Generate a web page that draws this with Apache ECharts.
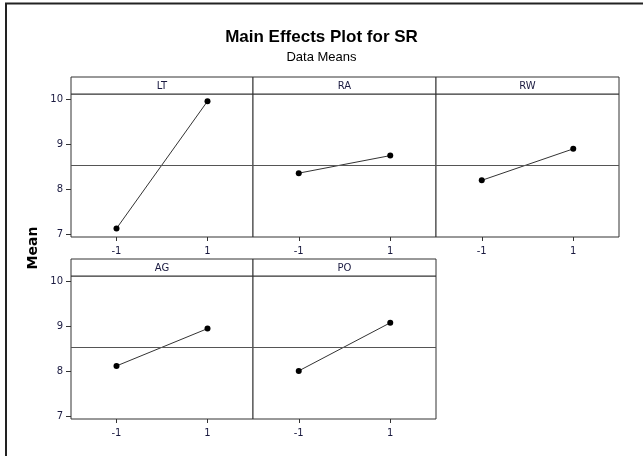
<!DOCTYPE html>
<html>
<head>
<meta charset="utf-8">
<script src="https://cdn.jsdelivr.net/npm/echarts@6/dist/echarts.min.js"></script>
<style>
  html, body { margin: 0; padding: 0; background: #fff; }
  #chart { width: 643px; height: 456px; }
</style>
</head>
<body>
<div id="chart"></div>
<script>
// Factor names and their coded levels
const factors = ['LT', 'RA', 'RW', 'AG', 'PO'];
const levels = [-1, 1];

// Mean response at each level of each factor
const meansLT = [7.13, 9.96];
const meansRA = [8.36, 8.75];
const meansRW = [8.20, 8.90];
const meansAG = [8.12, 8.95];
const meansPO = [8.01, 9.08];

// Overall mean of the response
const grandMean = 8.545;

// Axis ticks
const yTicks = [7, 8, 9, 10];
const xTicks = [-1, 1];

const factorMeans = [meansLT, meansRA, meansRW, meansAG, meansPO];

// Panel layout (pixels)
const colLeft = [71, 253, 436];
const colWidth = [182, 183, 183];
const rowHeaderTop = [77, 259];
const headerH = 17;
const plotH = 143;
const font = 'Tahoma, "DejaVu Sans", sans-serif';
const titleFont = '"Liberation Sans", Arial, sans-serif';

const grids = [], xAxes = [], yAxes = [], series = [], graphics = [];

factors.forEach((name, i) => {
  const row = Math.floor(i / 3), col = i % 3;
  const left = colLeft[col], width = colWidth[col];
  const top = rowHeaderTop[row] + headerH;

  grids.push({
    left: left, top: top, width: width, height: plotH,
    show: true, borderColor: '#333', borderWidth: 1, backgroundColor: '#fff'
  });

  xAxes.push({
    gridIndex: i, type: 'value', min: -2, max: 2,
    position: 'bottom',
    axisLine: { show: false, onZero: false },
    splitLine: { show: false },
    axisTick: { show: true, inside: false, customValues: xTicks, length: 4, lineStyle: { color: '#333' } },
    axisLabel: { customValues: xTicks, fontSize: 10, color: '#1a1a40', margin: 9, fontFamily: font }
  });

  const firstCol = col === 0;
  yAxes.push({
    gridIndex: i, type: 'value', min: 6.94, max: 10.12,
    position: 'left',
    axisLine: { show: false, onZero: false },
    splitLine: { show: false },
    axisTick: { show: firstCol, inside: false, customValues: yTicks, length: 5, lineStyle: { color: '#333' } },
    axisLabel: { show: firstCol, customValues: yTicks, fontSize: 10, color: '#1a1a40', margin: 8, fontFamily: font }
  });

  series.push({
    type: 'line',
    xAxisIndex: i, yAxisIndex: i,
    data: levels.map((lv, k) => [lv, factorMeans[i][k]]),
    symbol: 'circle', symbolSize: 6,
    itemStyle: { color: '#000' },
    lineStyle: { color: '#333', width: 1 },
    silent: true,
    animation: false,
    markLine: {
      silent: true, symbol: 'none', label: { show: false },
      lineStyle: { color: '#555', width: 1, type: 'solid' },
      data: [{ yAxis: grandMean }]
    }
  });

  // Header strip with the factor name
  graphics.push({
    type: 'rect',
    shape: { x: left, y: rowHeaderTop[row], width: width, height: headerH },
    style: { fill: '#fff', stroke: '#333', lineWidth: 1 }
  });
  graphics.push({
    type: 'text',
    x: left + width / 2, y: rowHeaderTop[row] + headerH / 2 + 0.5,
    style: { text: name, fontSize: 10, fill: '#1a1a40', fontFamily: font, align: 'center', verticalAlign: 'middle' }
  });
});

// Outer frame
graphics.push({
  type: 'polyline',
  shape: { points: [[6, 456], [6, 3.5], [643, 3.5]] },
  style: { stroke: '#222', lineWidth: 2, fill: null }
});

// Y axis title
graphics.push({
  type: 'text',
  x: 33, y: 248, rotation: Math.PI / 2,
  style: { text: 'Mean', fontSize: 14, fontWeight: 'bold', fill: '#000', fontFamily: font, align: 'center', verticalAlign: 'middle' }
});

const chart = echarts.init(document.getElementById('chart'), null, { renderer: 'canvas' });
chart.setOption({
  animation: false,
  backgroundColor: '#fff',
  title: {
    text: 'Main Effects Plot for SR',
    subtext: 'Data Means',
    left: 'center', top: 24,
    itemGap: 5,
    textStyle: { fontSize: 17, fontWeight: 'bold', color: '#000', fontFamily: titleFont },
    subtextStyle: { fontSize: 13, color: '#000', fontFamily: titleFont }
  },
  grid: grids,
  xAxis: xAxes,
  yAxis: yAxes,
  series: series,
  graphic: graphics
});
</script>
</body>
</html>
